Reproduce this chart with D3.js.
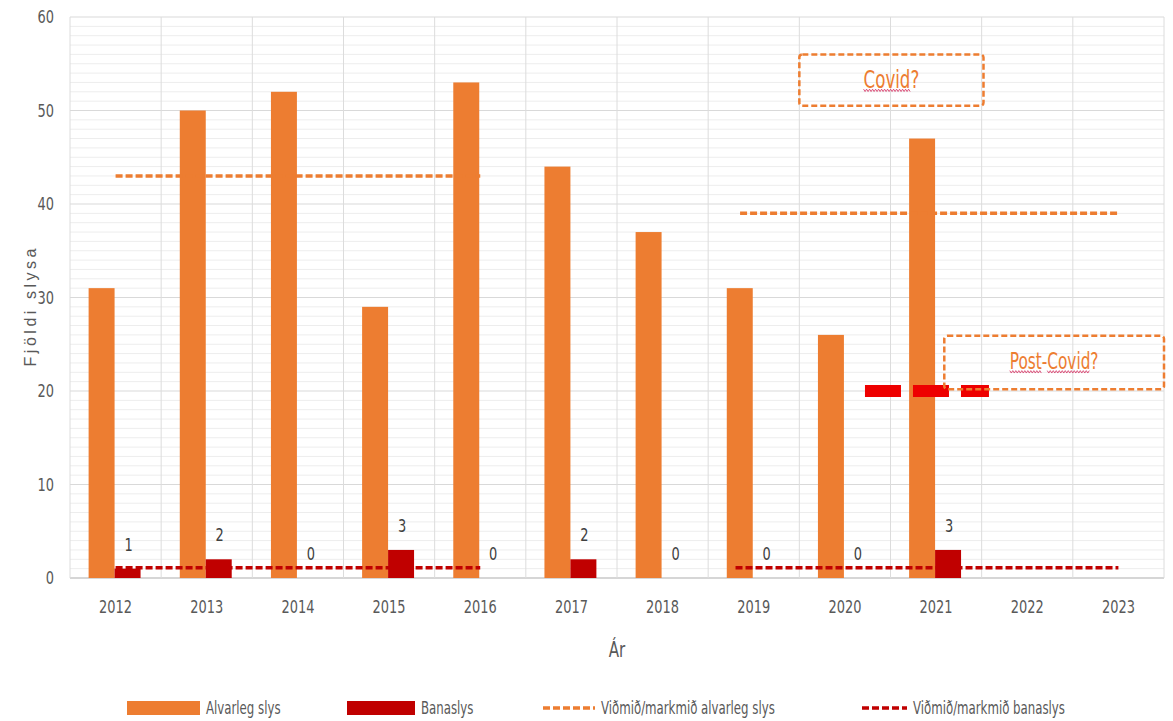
<!DOCTYPE html>
<html>
<head>
<meta charset="utf-8">
<script src="https://cdn.jsdelivr.net/npm/d3@7"></script>
<style>
  html, body { margin: 0; padding: 0; background: #fff; }
  svg { display: block; }
  .narrow { font-family: "Liberation Sans Narrow", "Arial Narrow", "DejaVu Sans Condensed", sans-serif; }
</style>
</head>
<body>
<svg id="chart" width="1173" height="721"></svg>
<script>
// Ár (years) on the category axis
const years = ["2012","2013","2014","2015","2016","2017","2018","2019","2020","2021","2022","2023"];
// Alvarleg slys (serious accidents) per year
const alvarleg = [31, 50, 52, 29, 53, 44, 37, 31, 26, 47, null, null];
// Banaslys (fatal accidents) per year
const banaslys = [1, 2, 0, 3, 0, 2, 0, 0, 0, 3, null, null];
// Target / benchmark segments: [start index, end index, value]
const markmidAlvarleg = [[0, 4, 43], [6.85, 11, 39]];
const markmidBanaslys = [[0, 4, 1.1], [6.8, 11, 1.1]];
// Post-Covid banaslys marker: [start index, end index, value]
const postCovidMark = [8.22, 9.58, 20];
// Annotation boxes: text, x0, x1 (category index), y0, y1 (value), words flagged by the spell checker [first char, last char]
const notes = [
  { text: "Covid?", x0: 7.5, x1: 9.52, y0: 56.0, y1: 50.5, size: 25, flagged: [[0, 4]] },
  { text: "Post-Covid?", x0: 9.09, x1: 11.5, y0: 25.9, y1: 20.2, size: 23, flagged: [[0, 3], [5, 9]] }
];
const yTicks = [0, 10, 20, 30, 40, 50, 60];

const orange = "#ED7D31";
const red = "#C00000";
const textGrey = "#595959";

const svg = d3.select("#chart");
const plotLeft = 70, plotRight = 1164, plotTop = 17, plotBottom = 578;

// horizontally compress text to get a narrow face
function squeeze(sel, k) {
  sel.each(function () {
    const t = d3.select(this);
    const tx = +t.attr("x") || 0, ty = +t.attr("y") || 0;
    const prev = t.attr("transform") || "";
    t.attr("transform", `${prev} translate(${tx},${ty}) scale(${k},1)`).attr("x", 0).attr("y", 0)
      .attr("data-tx", tx).attr("data-ty", ty).attr("data-k", k);
  });
}

const x0 = d3.scaleBand().domain(years).range([plotLeft, plotRight]).padding(0);
const xi = d3.scaleLinear().domain([0, 1]).range([x0(years[0]) + x0.bandwidth() / 2, x0(years[1]) + x0.bandwidth() / 2]);
const x1 = d3.scaleBand().domain(["a", "b"]).range([0, x0.bandwidth()]).paddingInner(0).paddingOuter(0.755);
const y = d3.scaleLinear().domain([0, 60]).range([plotBottom, plotTop]);

// minor gridlines every unit
const g = svg.append("g");
g.selectAll("line.minor").data(d3.range(1, 60).filter(v => v % 10 !== 0)).join("line")
  .attr("class", "minor")
  .attr("x1", plotLeft).attr("x2", plotRight).attr("y1", d => y(d)).attr("y2", d => y(d))
  .attr("stroke", "#ededed").attr("stroke-width", 1);
// major gridlines
g.selectAll("line.major").data(yTicks).join("line")
  .attr("class", "major")
  .attr("x1", plotLeft).attr("x2", plotRight).attr("y1", d => y(d)).attr("y2", d => y(d))
  .attr("stroke", d => d === 0 ? "#c8c8c8" : "#d9d9d9").attr("stroke-width", d => d === 0 ? 1.5 : 1);
// vertical category separators
g.selectAll("line.v").data(years.concat(["end"])).join("line")
  .attr("class", "v")
  .attr("x1", (d, i) => i < years.length ? x0(d) : plotRight)
  .attr("x2", (d, i) => i < years.length ? x0(d) : plotRight)
  .attr("y1", plotTop).attr("y2", plotBottom)
  .attr("stroke", "#dcdcdc").attr("stroke-width", 1);

// y axis labels
const yAxis = svg.append("g").attr("transform", `translate(${plotLeft - 16},0)`)
  .call(d3.axisLeft(y).tickValues(yTicks).tickSize(0).tickPadding(0));
yAxis.select(".domain").remove();
yAxis.selectAll("text").attr("class", "narrow").attr("font-size", 18).attr("fill", textGrey).call(squeeze, 0.8);

// x axis labels
const xAxis = svg.append("g").attr("transform", `translate(0,${plotBottom + 21})`)
  .call(d3.axisBottom(x0).tickSize(0).tickPadding(0));
xAxis.select(".domain").remove();
xAxis.selectAll("text").attr("class", "narrow").attr("font-size", 18).attr("fill", textGrey).attr("dy", "0.75em").call(squeeze, 0.8);

// bars
const groups = svg.append("g").selectAll("g").data(years).join("g")
  .attr("transform", d => `translate(${x0(d)},0)`);
groups.filter((d, i) => alvarleg[i] != null).append("rect")
  .attr("x", x1("a") - 1).attr("width", x1.bandwidth())
  .attr("y", d => y(alvarleg[years.indexOf(d)]))
  .attr("height", d => plotBottom - y(alvarleg[years.indexOf(d)]))
  .attr("fill", orange);
groups.filter((d, i) => banaslys[i] != null && banaslys[i] > 0).append("rect")
  .attr("x", x1("b") - 1).attr("width", x1.bandwidth())
  .attr("y", d => y(banaslys[years.indexOf(d)]))
  .attr("height", d => plotBottom - y(banaslys[years.indexOf(d)]))
  .attr("fill", red);
// banaslys value labels
groups.filter((d, i) => banaslys[i] != null).append("text")
  .attr("class", "narrow")
  .attr("x", x1("b") + x1.bandwidth() / 2)
  .attr("y", d => y(banaslys[years.indexOf(d)]) - 24)
  .attr("text-anchor", "middle").attr("dominant-baseline", "central")
  .attr("font-size", 18).attr("fill", "#404040")
  .text(d => banaslys[years.indexOf(d)])
  .call(squeeze, 0.8);

// target lines
svg.append("g").selectAll("line").data(markmidAlvarleg).join("line")
  .attr("x1", d => xi(d[0])).attr("x2", d => xi(d[1]))
  .attr("y1", d => y(d[2])).attr("y2", d => y(d[2]))
  .attr("stroke", orange).attr("stroke-width", 3.5).attr("stroke-dasharray", "7 3");
svg.append("g").selectAll("line").data(markmidBanaslys).join("line")
  .attr("x1", d => xi(d[0])).attr("x2", d => xi(d[1]))
  .attr("y1", d => y(d[2])).attr("y2", d => y(d[2]))
  .attr("stroke", red).attr("stroke-width", 3.5).attr("stroke-dasharray", "7 3");

// post-Covid banaslys marker
svg.append("line")
  .attr("x1", xi(postCovidMark[0])).attr("x2", xi(postCovidMark[1]))
  .attr("y1", y(postCovidMark[2])).attr("y2", y(postCovidMark[2]))
  .attr("stroke", "#EE0000").attr("stroke-width", 12).attr("stroke-dasharray", "36 12");

// annotation boxes
const ng = svg.append("g").selectAll("g").data(notes).join("g");
ng.append("rect")
  .attr("x", d => xi(d.x0)).attr("y", d => y(d.y0))
  .attr("width", d => xi(d.x1) - xi(d.x0)).attr("height", d => y(d.y1) - y(d.y0))
  .attr("rx", 3).attr("fill", "none")
  .attr("stroke", orange).attr("stroke-width", 2.5).attr("stroke-dasharray", "6 3");
const noteText = ng.append("text").attr("class", "narrow")
  .attr("x", d => (xi(d.x0) + xi(d.x1)) / 2)
  .attr("y", d => y((d.y0 + d.y1) / 2) - 1)
  .attr("text-anchor", "middle").attr("dominant-baseline", "central")
  .attr("font-size", d => d.size).attr("fill", orange)
  .text(d => d.text)
  .call(squeeze, 0.74);

// wavy spell-check underlines below flagged words
noteText.each(function (d) {
  const node = this, t = d3.select(this);
  const tx = +t.attr("data-tx"), ty = +t.attr("data-ty"), k = +t.attr("data-k");
  d.flagged.forEach(([a, b]) => {
    const xa = tx + k * node.getStartPositionOfChar(a).x;
    const xb = tx + k * node.getEndPositionOfChar(b).x;
    const yy = ty + d.size * 0.45;
    const pts = [];
    for (let px = xa, i = 0; px <= xb; px += 1.5, i++) pts.push([px, yy + (i % 2 ? 1.2 : -1.2)]);
    d3.select(node.parentNode).append("path")
      .attr("d", d3.line()(pts)).attr("fill", "none")
      .attr("stroke", "#d7426e").attr("stroke-width", 0.9);
  });
});

// axis titles
svg.append("text").attr("transform", `translate(36,${(plotTop + plotBottom) / 2 + 10}) rotate(-90)`)
  .attr("text-anchor", "middle").attr("font-family", "Liberation Sans, Arial, sans-serif")
  .attr("font-size", 16).attr("textLength", 118).attr("lengthAdjust", "spacing")
  .attr("fill", textGrey).text("Fjöldi slysa");
svg.append("text").attr("class", "narrow").attr("x", (plotLeft + plotRight) / 2).attr("y", 657)
  .attr("text-anchor", "middle").attr("font-size", 21).attr("fill", textGrey).text("Ár")
  .call(squeeze, 0.8);

// legend
const legendItems = [
  { label: "Alvarleg slys", type: "rect", color: orange, x: 127, w: 73 },
  { label: "Banaslys", type: "rect", color: red, x: 347, w: 68 },
  { label: "Viðmið/markmið alvarleg slys", type: "line", color: orange, x: 543, w: 52 },
  { label: "Viðmið/markmið banaslys", type: "line", color: red, x: 862, w: 45 }
];
const lg = svg.append("g").selectAll("g").data(legendItems).join("g");
lg.filter(d => d.type === "rect").append("rect")
  .attr("x", d => d.x).attr("y", 701).attr("width", d => d.w).attr("height", 14).attr("fill", d => d.color);
lg.filter(d => d.type === "line").append("line")
  .attr("x1", d => d.x).attr("x2", d => d.x + d.w).attr("y1", 708).attr("y2", 708)
  .attr("stroke", d => d.color).attr("stroke-width", 3.5).attr("stroke-dasharray", "7 3");
lg.append("text").attr("class", "narrow")
  .attr("x", d => d.x + d.w + 6).attr("y", 708).attr("dominant-baseline", "central")
  .attr("font-size", 17).attr("fill", textGrey).text(d => d.label)
  .call(squeeze, 0.77);
</script>
</body>
</html>
